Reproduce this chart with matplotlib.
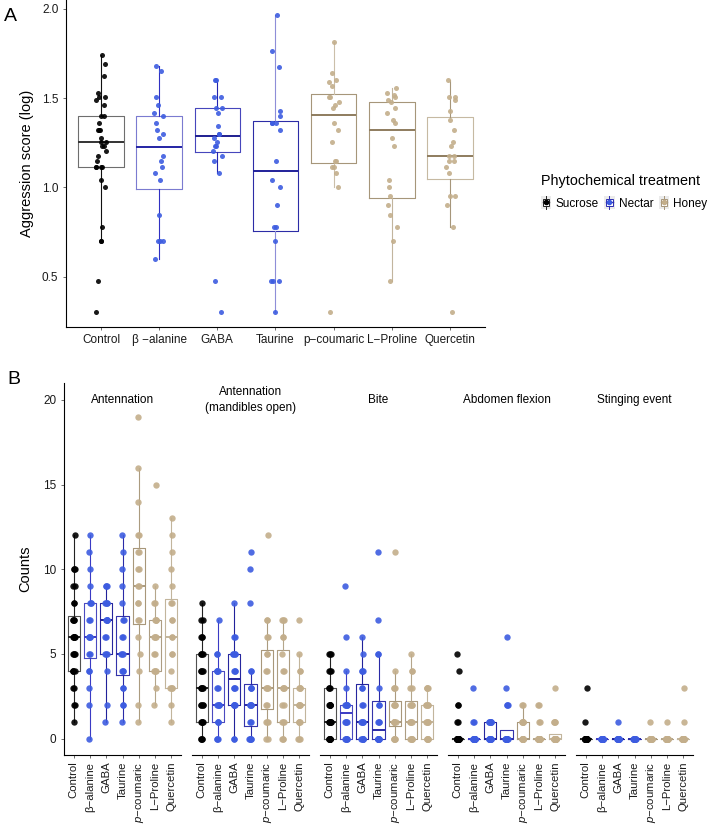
import numpy as np
import matplotlib
matplotlib.use("Agg")
import matplotlib.pyplot as plt
from matplotlib.legend_handler import HandlerBase
from matplotlib.patches import Rectangle
from matplotlib.lines import Line2D

plt.rcParams['font.family'] = ['Liberation Sans', 'DejaVu Sans']
plt.rcParams['mathtext.fontset'] = 'custom'
plt.rcParams['mathtext.rm'] = 'Liberation Sans'
plt.rcParams['mathtext.it'] = 'Liberation Sans:italic'

# ---- data -----------------------------------------------------------------
labels_a = ["Control", "β −alanine", "GABA", "Taurine", "p−coumaric", "L−Proline", "Quercetin"]
labels_b = ["Control", "β−alanine", "GABA", "Taurine", r"$\it{p}$−coumaric", "L−Proline", "Quercetin"]
group_of = ["Sucrose", "Nectar", "Nectar", "Nectar", "Honey", "Honey", "Honey"]

# panel A: aggression score (log10)
agg_control = [1.740, 1.690, 1.623, 1.531, 1.505, 1.505, 1.491, 1.462, 1.398, 1.398, 1.362,
               1.322, 1.322, 1.322, 1.279, 1.255, 1.255, 1.230, 1.230, 1.204, 1.176, 1.146,
               1.114, 1.114, 1.114, 1.114, 1.041, 1.000, 0.778, 0.699, 0.699, 0.477, 0.301]
agg_balanine = [1.681, 1.653, 1.505, 1.462, 1.415, 1.398, 1.362, 1.322, 1.301, 1.279,
                1.176, 1.146, 1.114, 1.079, 1.041, 0.845, 0.699, 0.699, 0.699, 0.602]
agg_gaba = [1.602, 1.602, 1.505, 1.505, 1.447, 1.447, 1.415, 1.342, 1.301, 1.301,
            1.279, 1.255, 1.230, 1.230, 1.204, 1.176, 1.146, 1.079, 0.477, 0.301]
agg_taurine = [1.968, 1.763, 1.672, 1.431, 1.398, 1.362, 1.362, 1.362, 1.322, 1.146,
               1.041, 1.000, 0.903, 0.778, 0.778, 0.699, 0.477, 0.477, 0.477, 0.301]
agg_coumaric = [1.813, 1.643, 1.602, 1.591, 1.568, 1.505, 1.505, 1.477, 1.462, 1.447,
                1.362, 1.322, 1.255, 1.146, 1.146, 1.114, 1.114, 1.079, 1.000, 0.301]
agg_proline = [1.556, 1.531, 1.519, 1.505, 1.491, 1.477, 1.447, 1.415, 1.380, 1.362,
               1.279, 1.230, 1.041, 1.000, 0.954, 0.903, 0.845, 0.778, 0.699, 0.477]
agg_quercetin = [1.602, 1.505, 1.505, 1.491, 1.431, 1.380, 1.322, 1.255, 1.230, 1.176,
                 1.176, 1.146, 1.146, 1.114, 1.079, 0.954, 0.954, 0.903, 0.778, 0.301]
aggression = [agg_control, agg_balanine, agg_gaba, agg_taurine, agg_coumaric, agg_proline, agg_quercetin]

# panel B: behaviour counts, as {count value: number of individuals}
behaviours = ["Antennation", "Antennation\n(mandibles open)", "Bite", "Abdomen flexion", "Stinging event"]

antennation = [
    {1: 1, 2: 2, 3: 2, 4: 4, 5: 4, 6: 7, 7: 4, 8: 2, 9: 2, 10: 3, 12: 1},
    {0: 1, 2: 1, 3: 1, 4: 2, 5: 2, 6: 4, 7: 2, 8: 3, 9: 1, 10: 1, 11: 1, 12: 1},
    {1: 1, 2: 1, 4: 1, 5: 3, 6: 2, 7: 5, 8: 4, 9: 3},
    {1: 1, 2: 2, 3: 2, 4: 3, 5: 3, 6: 2, 7: 2, 8: 1, 9: 1, 10: 1, 11: 1, 12: 1},
    {1: 1, 2: 1, 4: 1, 5: 1, 6: 1, 7: 2, 8: 2, 9: 2, 10: 2, 11: 2, 12: 2, 14: 1, 16: 1, 19: 1},
    {2: 1, 3: 1, 4: 4, 5: 2, 6: 4, 7: 4, 8: 2, 9: 1, 15: 1},
    {1: 1, 2: 1, 3: 4, 4: 1, 5: 2, 6: 2, 7: 2, 8: 2, 9: 1, 10: 1, 11: 1, 12: 1, 13: 1},
]
mandibles_open = [
    {0: 4, 1: 5, 2: 4, 3: 5, 4: 4, 5: 4, 6: 3, 7: 2, 8: 1},
    {0: 3, 1: 3, 2: 5, 3: 2, 4: 4, 5: 2, 7: 1},
    {0: 2, 2: 5, 3: 3, 4: 3, 5: 4, 6: 2, 8: 1},
    {0: 5, 1: 2, 2: 5, 3: 3, 4: 2, 8: 1, 10: 1, 11: 1},
    {0: 2, 1: 3, 2: 2, 3: 4, 4: 2, 5: 2, 6: 2, 7: 2, 12: 1},
    {0: 3, 1: 3, 2: 2, 3: 4, 4: 2, 5: 1, 6: 2, 7: 3},
    {0: 3, 1: 4, 2: 5, 3: 4, 4: 2, 5: 1, 7: 1},
]
bite = [
    {0: 9, 1: 8, 2: 6, 3: 3, 4: 3, 5: 3},
    {0: 6, 1: 4, 2: 6, 3: 1, 4: 1, 6: 1, 9: 1},
    {0: 6, 1: 5, 2: 2, 3: 2, 4: 3, 5: 1, 6: 1},
    {0: 10, 1: 3, 2: 2, 3: 1, 5: 2, 7: 1, 11: 1},
    {0: 5, 1: 6, 2: 4, 3: 3, 4: 1, 11: 1},
    {0: 6, 1: 5, 2: 4, 3: 2, 4: 2, 5: 1},
    {0: 6, 1: 5, 2: 5, 3: 4},
]
abdomen_flexion = [
    {0: 26, 1: 2, 2: 2, 4: 1, 5: 1},
    {0: 17, 1: 2, 3: 1},
    {0: 13, 1: 7},
    {0: 15, 2: 3, 3: 1, 6: 1},
    {0: 12, 1: 6, 2: 2},
    {0: 16, 1: 2, 2: 2},
    {0: 15, 1: 4, 3: 1},
]
stinging = [
    {0: 30, 1: 1, 3: 1},
    {0: 20},
    {0: 19, 1: 1},
    {0: 20},
    {0: 19, 1: 1},
    {0: 19, 1: 1},
    {0: 18, 1: 1, 3: 1},
]
counts = [antennation, mandibles_open, bite, abdomen_flexion, stinging]

# ---- styling --------------------------------------------------------------
point_col = {"Sucrose": "#000000", "Nectar": "#3D5CE0", "Honey": "#C3AE8B"}
box_col_a = ["#6E6E6E", "#7B7BD0", "#4646BC", "#2C2CA6", "#A6967A", "#A6967A", "#C6B9A2"]
whisk_col_a = ["#111111", "#3030C2", "#2424B0", "#8E8ED8", "#CBBFA9", "#C2B59E", "#A6967A"]
med_col_a = ["#333333", "#2424A4", "#1E1E90", "#20209A", "#8E7C5E", "#8E7C5E", "#8E7C5E"]
box_col_b = ["#505050", "#4A4AC0", "#26269E", "#3434AA", "#A8977A", "#AD9D82", "#C2B59C"]
whisk_col_b = ["#222222", "#3A3AC4", "#22229A", "#2A2AA6", "#AB9B7F", "#B5A68B", "#C2B59C"]
legend_cols = [("#222222", "#000000"), ("#2C2CB0", "#3D5CE0"), ("#A6967A", "#C3AE8B")]

rng = np.random.default_rng(7)


def style_box(bp, i, box_c, whisk_c, med_c, lw=0.8):
    bp['boxes'][i].set(color=box_c, linewidth=lw)
    for w in bp['whiskers'][2 * i:2 * i + 2]:
        w.set(color=whisk_c, linewidth=lw)
    bp['medians'][i].set(color=med_c, linewidth=1.4)


class BoxKey(HandlerBase):
    def create_artists(self, legend, orig_handle, xdescent, ydescent, width, height, fontsize, trans):
        ec = orig_handle.get_edgecolor()
        pc = orig_handle.get_facecolor()
        cx = width / 2 - xdescent
        bw, bh = width * 0.62, height * 0.72
        y0 = -ydescent + (height - bh) / 2
        bg = Rectangle((-xdescent, -ydescent - 1), width, height + 2, facecolor="#EBEBEB",
                       edgecolor="none", transform=trans)
        wl = Line2D([cx, cx], [-ydescent - 1, -ydescent + height + 1], color=ec, lw=0.7, transform=trans)
        box = Rectangle((cx - bw / 2, y0), bw, bh, facecolor="white", edgecolor=ec, lw=0.7, transform=trans)
        med = Line2D([cx - bw / 2, cx + bw / 2], [y0 + bh / 2] * 2, color=ec, lw=1.0, transform=trans)
        dot = Line2D([cx], [y0 + bh / 2], marker="o", ms=3, color=pc, lw=0, transform=trans)
        return [bg, wl, box, med, dot]


fig = plt.figure(figsize=(7.1, 8.25), dpi=100)

# ---- panel A --------------------------------------------------------------
ax = fig.add_axes([0.093, 0.604, 0.590, 0.396])
pos = np.arange(1, len(labels_a) + 1)
bp = ax.boxplot(aggression, positions=pos, widths=0.78, showfliers=False, showcaps=False, whis=1.5)
for i in range(len(pos)):
    style_box(bp, i, box_col_a[i], whisk_col_a[i], med_col_a[i])
    ys = np.asarray(aggression[i])
    xs = pos[i] + rng.uniform(-0.09, 0.09, len(ys))
    ax.scatter(xs, ys, s=13, color=point_col[group_of[i]], alpha=0.9, linewidths=0, zorder=3)

ax.set_xlim(0.4, len(pos) + 0.6)
ax.set_ylim(0.22, 2.05)
ax.set_yticks([0.5, 1.0, 1.5, 2.0])
ax.set_yticklabels(["0.5", "1.0", "1.5", "2.0"])
ax.set_xticks(pos)
ax.set_xticklabels(labels_a)
ax.set_ylabel("Aggression score (log)", fontsize=10.5, labelpad=6)
for s in ["top", "right"]:
    ax.spines[s].set_visible(False)
for s in ["left", "bottom"]:
    ax.spines[s].set_linewidth(0.8)
ax.tick_params(labelsize=8.5, length=2.5, width=0.5, color="#333333", labelcolor="#1A1A1A", pad=3)
fig.text(0.005, 0.975, "A", fontsize=14)

handles = [Rectangle((0, 0), 1, 1, edgecolor=e, facecolor=f) for e, f in legend_cols]
leg = fig.legend(handles, ["Sucrose", "Nectar", "Honey"], handler_map={Rectangle: BoxKey()},
                 ncol=3, title="Phytochemical treatment", loc="upper left",
                 bbox_to_anchor=(0.755, 0.795), frameon=False, fontsize=8.5, title_fontsize=10.4,
                 handlelength=0.9, handleheight=0.9, handletextpad=0.35, columnspacing=0.45,
                 alignment="left", borderaxespad=0, labelspacing=0.6)
leg._legend_box.sep = 7

# ---- panel B --------------------------------------------------------------
facet_w = 117 / 710
facet_step = 128 / 710
for f, (name, data) in enumerate(zip(behaviours, counts)):
    axb = fig.add_axes([64 / 710 + f * facet_step, 0.0845, facet_w, 0.4513])
    vals = [np.repeat(list(d.keys()), list(d.values())) for d in data]
    bp = axb.boxplot(vals, positions=pos, widths=0.75, showfliers=False, showcaps=False, whis=1.5)
    for i in range(len(pos)):
        style_box(bp, i, box_col_b[i], whisk_col_b[i], whisk_col_b[i])
        xs = pos[i] + rng.uniform(-0.07, 0.07, len(vals[i]))
        axb.scatter(xs, vals[i], s=21, color=point_col[group_of[i]], alpha=0.9, linewidths=0, zorder=3)
    axb.set_xlim(0.4, len(pos) + 0.6)
    axb.set_ylim(-0.98, 21.0)
    axb.set_xticks(pos)
    axb.set_xticklabels(labels_b, rotation=90, fontsize=8.2, color="#1A1A1A")
    axb.text(0.5, 0.954, name, transform=axb.transAxes, ha="center", va="center",
             fontsize=8.5, linespacing=1.5)
    for s in ["top", "right"]:
        axb.spines[s].set_visible(False)
    axb.spines["bottom"].set_linewidth(0.8)
    axb.tick_params(axis="x", length=2.5, width=0.5, color="#333333", pad=2)
    if f == 0:
        axb.spines["left"].set_linewidth(0.8)
        axb.set_yticks([0, 5, 10, 15, 20])
        axb.tick_params(axis="y", labelsize=8.5, length=2.5, width=0.5, color="#333333",
                        labelcolor="#1A1A1A", pad=3)
        axb.set_ylabel("Counts", fontsize=10.5, labelpad=8)
    else:
        axb.spines["left"].set_visible(False)
        axb.set_yticks([])

fig.text(0.01, 0.535, "B", fontsize=14)

fig.savefig("out.png", dpi=100)
